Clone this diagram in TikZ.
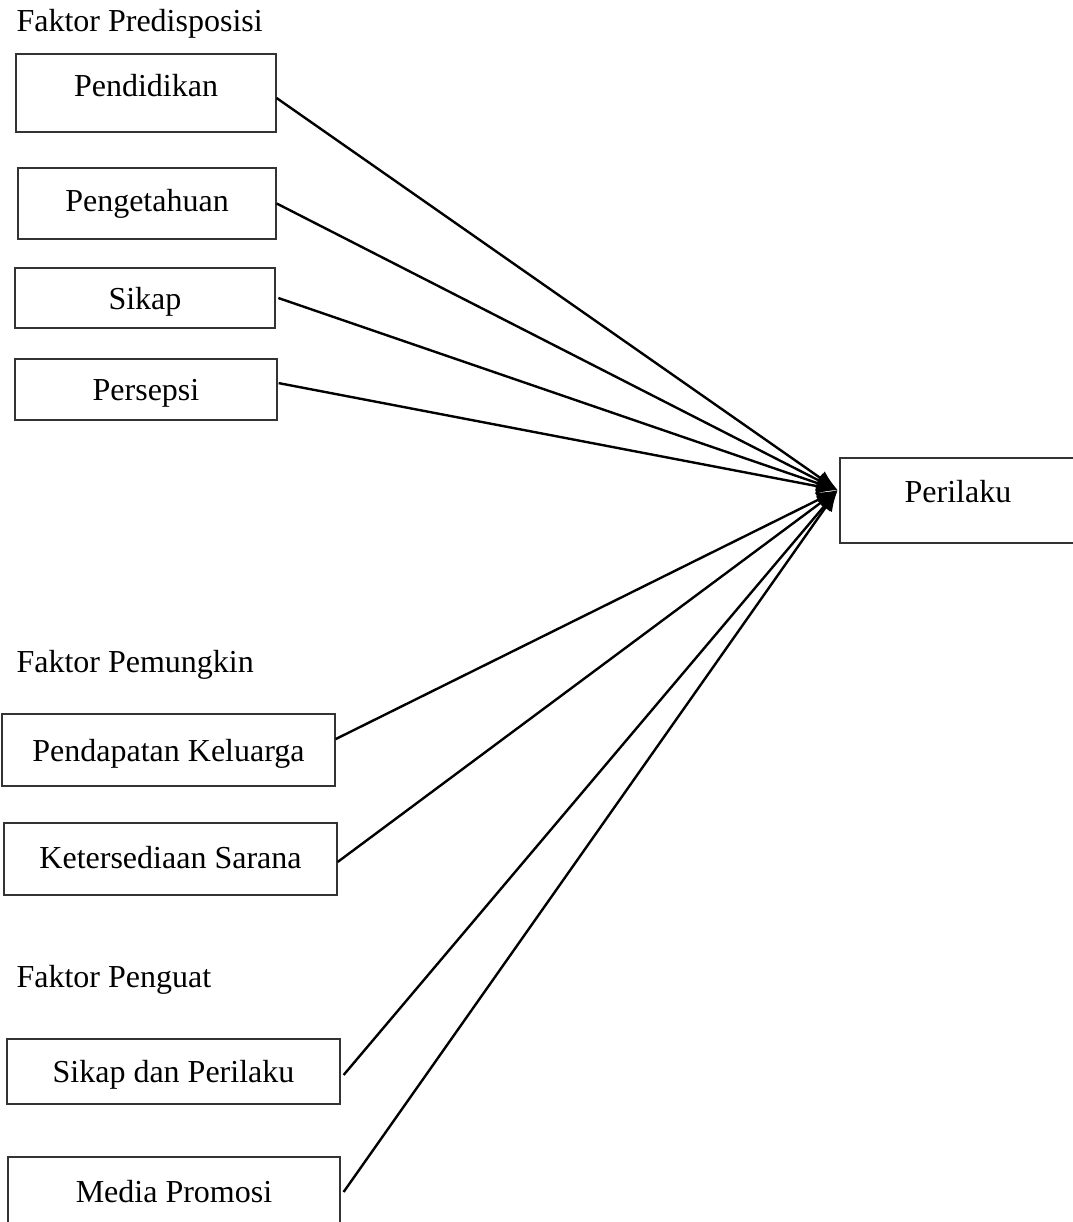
\documentclass[tikz,border=0pt]{standalone}
\usepackage{fontspec}
\setmainfont{Liberation Serif}
\usetikzlibrary{arrows.meta}
\begin{document}
\begin{tikzpicture}[x=0.375pt,y=-0.375pt,
		font=\fontsize{12}{14}\selectfont,
		faktor/.style={draw=black!80,line width=0.5pt,inner sep=0pt,text height=10.5pt,text depth=2pt},
		judul/.style={anchor=west,inner sep=0pt},
		panah/.style={line width=0.9pt,-{Latex[length=8pt,width=6pt]}}]
		\useasboundingbox (0,0) rectangle (1073,1222);
		% faktor predisposisi
		\node[judul] (jpre) at (16,24) {Faktor Predisposisi};
		\node[faktor,minimum width=97.5pt,minimum height=29.2pt,text depth=8pt] (pend) at (146,93) {Pendidikan};
		\node[faktor,minimum width=96.8pt,minimum height=26.6pt,text depth=4.5pt] (penget) at (147,203.5) {Pengetahuan};
		\node[faktor,minimum width=97.5pt,minimum height=22.5pt] (sikap) at (145,298) {Sikap};
		\node[faktor,minimum width=98.2pt,minimum height=22.9pt] (persepsi) at (146,389.5) {Persepsi};
		% perilaku
		\node[faktor,minimum width=88.5pt,minimum height=31.9pt,text depth=9pt] (peri) at (958,500.5) {Perilaku};
		\coordinate (tuju) at ([yshift=3.9pt,xshift=-0.6pt]peri.west);
		% faktor pemungkin
		\node[judul] (jpem) at (16,665) {Faktor Pemungkin};
		\node[faktor,minimum width=124.9pt,minimum height=27pt] (pk) at (168.5,750) {Pendapatan Keluarga};
		\node[faktor,minimum width=124.9pt,minimum height=27pt,text depth=3.5pt] (ks) at (170.5,859) {Ketersediaan Sarana};
		% faktor penguat
		\node[judul] (jpen) at (16,980) {Faktor Penguat};
		\node[faktor,minimum width=124.9pt,minimum height=24.4pt] (sdp) at (173.5,1071.5) {Sikap dan Perilaku};
		\node[faktor,minimum width=124.5pt,minimum height=26.2pt,text depth=3pt] (mp) at (174,1192) {Media Promosi};
		% panah
		\draw[panah] ([yshift=-1.9pt]pend.east) -- (tuju);
		\draw[panah] (penget.east) -- (tuju);
		\draw[panah] ([xshift=1pt]sikap.east) -- (tuju);
		\draw[panah] ([yshift=2.4pt,xshift=0.4pt]persepsi.east) -- (tuju);
		\draw[panah] ([yshift=4.1pt]pk.east) -- (tuju);
		\draw[panah] ([yshift=-1.1pt]ks.east) -- (tuju);
		\draw[panah] ([yshift=-1.3pt,xshift=1.1pt]sdp.east) -- (tuju);
		\draw[panah] ([xshift=1.1pt]mp.east) -- (tuju);
	\end{tikzpicture}
\end{document}
